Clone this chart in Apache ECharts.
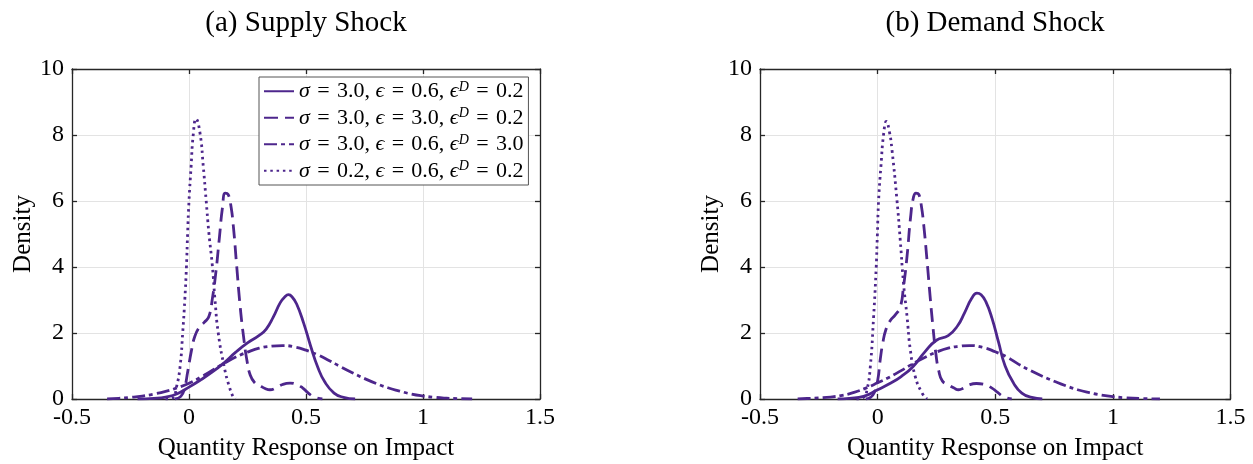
<!DOCTYPE html>
<html>
<head>
<meta charset="utf-8">
<script src="https://cdn.jsdelivr.net/npm/echarts@6/dist/echarts.min.js"></script>
<style>
html,body{margin:0;padding:0;background:#fff;}
#chart{width:1253px;height:464px;}
</style>
</head>
<body>
<div id="chart"></div>
<script>
// ---------- DATA ----------
const panelTitles = ['(a) Supply Shock', '(b) Demand Shock'];
const xAxisTitle = 'Quantity Response on Impact';
const yAxisTitle = 'Density';
const xTicks = [-0.5, 0, 0.5, 1, 1.5];
const yTicks = [0, 2, 4, 6, 8, 10];

const seriesNames = ['s30_e06_d02', 's30_e30_d02', 's30_e06_d30', 's02_e06_d02'];
const sigmaVals = ['3.0', '3.0', '3.0', '0.2'];
const epsVals = ['0.6', '3.0', '0.6', '0.6'];
const epsDVals = ['0.2', '0.2', '3.0', '0.2'];

// Panel (a) Supply shock
const supplySolid = [[-0.22,0],[-0.15,0.02],[-0.1,0.06],[-0.05,0.16],[0,0.36],[0.05,0.58],[0.1,0.82],[0.15,1.1],[0.2,1.42],[0.25,1.7],[0.3,1.93],[0.33,2.12],[0.36,2.48],[0.39,2.92],[0.41,3.1],[0.425,3.16],[0.44,3.1],[0.46,2.88],[0.49,2.3],[0.52,1.6],[0.55,0.97],[0.58,0.52],[0.62,0.18],[0.66,0.05],[0.71,0]];
const supplyDashed = [[-0.06,0],[-0.035,0.08],[-0.02,0.3],[-0.005,0.85],[0.01,1.45],[0.025,1.9],[0.045,2.18],[0.065,2.32],[0.085,2.5],[0.1,3.05],[0.115,3.85],[0.13,4.9],[0.143,5.8],[0.155,6.24],[0.167,6.2],[0.178,5.9],[0.19,5.2],[0.203,4.1],[0.218,2.85],[0.233,1.9],[0.248,1.15],[0.262,0.72],[0.28,0.5],[0.3,0.42],[0.325,0.32],[0.346,0.28],[0.37,0.33],[0.4,0.44],[0.432,0.48],[0.46,0.44],[0.485,0.34],[0.51,0.18],[0.535,0.06],[0.57,0]];
const supplyDashDot = [[-0.35,0],[-0.3,0.02],[-0.25,0.05],[-0.2,0.09],[-0.15,0.15],[-0.1,0.23],[-0.05,0.34],[0,0.48],[0.05,0.66],[0.1,0.87],[0.15,1.08],[0.2,1.27],[0.25,1.42],[0.3,1.54],[0.35,1.6],[0.4,1.62],[0.45,1.58],[0.5,1.48],[0.55,1.34],[0.6,1.16],[0.65,0.97],[0.7,0.79],[0.75,0.62],[0.8,0.47],[0.85,0.34],[0.9,0.24],[0.95,0.15],[1.0,0.09],[1.05,0.05],[1.1,0.025],[1.15,0.01],[1.21,0]];
const supplyDotted = [[-0.1,0],[-0.07,0.03],[-0.053,0.38],[-0.038,0.99],[-0.027,2.0],[-0.018,3.0],[-0.011,4.0],[-0.006,5.0],[0,6.0],[0.009,7.05],[0.018,8.0],[0.03,8.49],[0.047,8.06],[0.061,7.05],[0.073,6.04],[0.085,5.03],[0.1,4.02],[0.111,3.01],[0.125,2.0],[0.15,0.99],[0.172,0.38],[0.19,0.05],[0.2,0]];

// Panel (b) Demand shock
const demandSolid = [[-0.17,0],[-0.12,0.02],[-0.06,0.08],[0,0.28],[0.05,0.46],[0.1,0.68],[0.15,0.98],[0.2,1.42],[0.25,1.78],[0.3,1.92],[0.34,2.22],[0.37,2.62],[0.4,3.05],[0.422,3.21],[0.44,3.16],[0.46,2.95],[0.486,2.45],[0.514,1.72],[0.542,1.0],[0.578,0.48],[0.613,0.18],[0.655,0.05],[0.7,0]];
const demandDashed = [[-0.05,0],[-0.03,0.05],[-0.015,0.18],[0,0.55],[0.011,1.19],[0.022,1.7],[0.035,2.1],[0.054,2.38],[0.075,2.55],[0.096,2.78],[0.11,3.4],[0.125,4.32],[0.14,5.5],[0.152,6.1],[0.163,6.24],[0.175,6.2],[0.186,5.85],[0.197,5.2],[0.21,4.2],[0.222,3.2],[0.235,2.2],[0.248,1.35],[0.26,0.85],[0.275,0.55],[0.3,0.43],[0.325,0.33],[0.344,0.28],[0.365,0.33],[0.39,0.43],[0.42,0.47],[0.45,0.45],[0.486,0.33],[0.51,0.2],[0.535,0.07],[0.57,0]];
const demandDashDot = [[-0.34,0],[-0.3,0.015],[-0.25,0.035],[-0.2,0.06],[-0.15,0.11],[-0.1,0.2],[-0.05,0.33],[0,0.49],[0.05,0.66],[0.1,0.86],[0.15,1.07],[0.2,1.26],[0.25,1.42],[0.3,1.54],[0.35,1.6],[0.39,1.62],[0.45,1.56],[0.5,1.43],[0.55,1.27],[0.6,1.05],[0.65,0.86],[0.7,0.69],[0.75,0.54],[0.8,0.4],[0.85,0.28],[0.9,0.19],[0.95,0.12],[1.0,0.07],[1.05,0.04],[1.12,0.015],[1.2,0]];
const demandDotted = [[-0.09,0],[-0.06,0.05],[-0.045,0.28],[-0.031,0.99],[-0.017,2.5],[-0.006,4.0],[-0.001,5.0],[0.004,6.0],[0.014,7.05],[0.026,8.06],[0.037,8.41],[0.05,8.1],[0.061,7.55],[0.082,6.04],[0.096,4.83],[0.11,3.51],[0.125,2.5],[0.139,1.49],[0.16,0.68],[0.189,0.18],[0.21,0]];

// ---------- STYLE ----------
const PURPLE = '#4d268c';
const FONT = '"Liberation Serif", "Times New Roman", serif';
const AXIS_COLOR = '#262626';
const GRID_COLOR = '#e3e3e3';
const lineTypes = ['solid', [14, 7], [13, 4, 4, 4], [2.5, 3.8]];

const grids = [
  {left: 72, top: 69, width: 468, height: 330, containLabel: false, outerBoundsMode: 'none'},
  {left: 760, top: 69, width: 470.5, height: 330, containLabel: false, outerBoundsMode: 'none'}
];

function xAxes(gridIndex) {
  const base = {
    type: 'value', gridIndex: gridIndex, min: -0.5, max: 1.5, interval: 0.5,
    axisLine: {show: true, onZero: false, lineStyle: {color: AXIS_COLOR, width: 1.3}},
    axisTick: {show: true, inside: true, length: 5, lineStyle: {color: AXIS_COLOR, width: 1.3}}
  };
  return [
    Object.assign({}, base, {
      position: 'bottom',
      axisLabel: {show: true, color: '#000', fontFamily: FONT, fontSize: 24, margin: 7,
        formatter: v => (xTicks.indexOf(v) >= 0 ? String(v) : '')},
      splitLine: {show: true, lineStyle: {color: GRID_COLOR, width: 1}},
      name: xAxisTitle, nameLocation: 'middle', nameGap: 37,
      nameTextStyle: {color: '#000', fontFamily: FONT, fontSize: 25}
    }),
    Object.assign({}, base, {
      position: 'top', axisLabel: {show: false}, splitLine: {show: false}
    })
  ];
}
function yAxes(gridIndex) {
  const base = {
    type: 'value', gridIndex: gridIndex, min: 0, max: 10, interval: 2,
    axisLine: {show: true, onZero: false, lineStyle: {color: AXIS_COLOR, width: 1.3}},
    axisTick: {show: true, inside: true, length: 5, lineStyle: {color: AXIS_COLOR, width: 1.3}}
  };
  return [
    Object.assign({}, base, {
      position: 'left',
      axisLabel: {show: true, color: '#000', fontFamily: FONT, fontSize: 24, margin: 8,
        formatter: v => (yTicks.indexOf(v) >= 0 ? String(v) : '')},
      splitLine: {show: true, lineStyle: {color: GRID_COLOR, width: 1}},
      name: yAxisTitle, nameLocation: 'middle', nameGap: 30,
      nameTextStyle: {color: '#000', fontFamily: FONT, fontSize: 25}
    }),
    Object.assign({}, base, {
      position: 'right', axisLabel: {show: false}, splitLine: {show: false}
    })
  ];
}

const panelData = [
  [supplySolid, supplyDashed, supplyDashDot, supplyDotted],
  [demandSolid, demandDashed, demandDashDot, demandDotted]
];

const series = [];
panelData.forEach((curves, p) => {
  curves.forEach((pts, k) => {
    series.push({
      type: 'line', name: seriesNames[k],
      xAxisIndex: p * 2, yAxisIndex: p * 2,
      data: pts, showSymbol: false, symbol: 'none',
      smooth: 0.5,
      lineStyle: {color: PURPLE, width: 2.8, type: lineTypes[k], join: 'round'},
      itemStyle: {color: PURPLE},
      z: 3 + k, silent: true, animation: false
    });
  });
});

const SP = '\u2004';
const legendLabel = {};
seriesNames.forEach((n, k) => {
  legendLabel[n] = '{i|σ}' + SP + '=' + SP + sigmaVals[k] + ', {i|ϵ}' + SP + '=' + SP + epsVals[k] +
    ', {i|ϵ}{s|D}' + SP + '=' + SP + epsDVals[k];
});

const option = {
  animation: false,
  backgroundColor: '#fff',
  title: [
    {text: panelTitles[0], left: 306, top: 9, textAlign: 'center', padding: 0,
     textStyle: {fontFamily: FONT, fontSize: 29, fontWeight: 'normal', color: '#000'}},
    {text: panelTitles[1], left: 995, top: 9, textAlign: 'center', padding: 0,
     textStyle: {fontFamily: FONT, fontSize: 29, fontWeight: 'normal', color: '#000'}}
  ],
  grid: grids,
  xAxis: xAxes(0).concat(xAxes(1)),
  yAxis: yAxes(0).concat(yAxes(1)),
  legend: {
    show: true, orient: 'vertical', left: 259, top: 77,
    data: seriesNames, selectedMode: false,
    itemWidth: 30, itemHeight: 14, itemGap: 4,
    padding: [3, 5, 3, 4],
    backgroundColor: '#fff', borderColor: '#555', borderWidth: 1, borderRadius: 0,
    itemStyle: {opacity: 0},
    formatter: name => legendLabel[name],
    textStyle: {
      color: '#000', fontFamily: FONT, fontSize: 22, lineHeight: 22.5,
      rich: {
        i: {fontFamily: FONT, fontStyle: 'italic', fontSize: 22, color: '#000', lineHeight: 22.5},
        s: {fontFamily: FONT, fontStyle: 'italic', fontSize: 14, color: '#000', lineHeight: 13, verticalAlign: 'top'}
      }
    }
  },
  series: series
};

const chart = echarts.init(document.getElementById('chart'), null, {renderer: 'canvas'});
chart.setOption(option);
</script>
</body>
</html>
